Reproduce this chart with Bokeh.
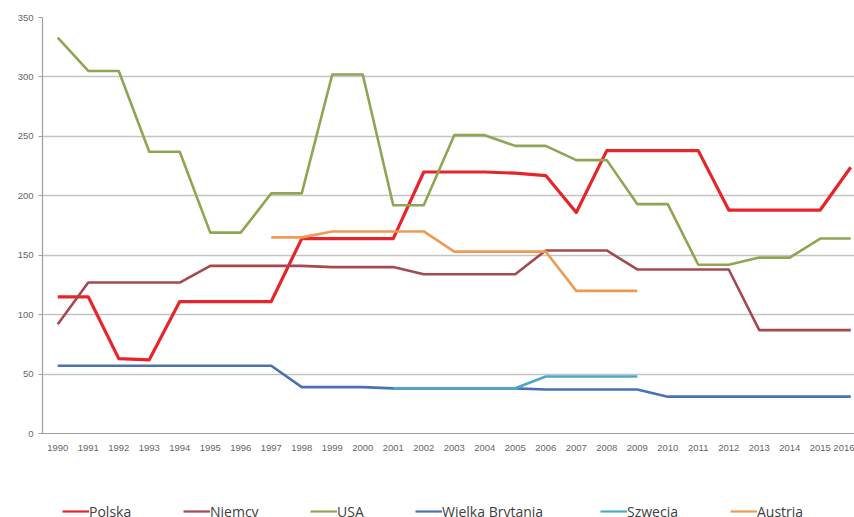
from bokeh.plotting import figure
from bokeh.layouts import column
from bokeh.models import Legend, LegendItem, FixedTicker, Range1d
from bokeh.embed import file_html
from bokeh.resources import INLINE

years = list(range(1990, 2017))
polska = [115, 115, 63, 62, 111, 111, 111, 111, 164, 164, 164, 164, 220, 220,
          220, 219, 217, 186, 238, 238, 238, 238, 188, 188, 188, 188, 224]
niemcy = [92, 127, 127, 127, 127, 141, 141, 141, 141, 140, 140, 140, 134, 134,
          134, 134, 154, 154, 154, 138, 138, 138, 138, 87, 87, 87, 87]
usa = [333, 305, 305, 237, 237, 169, 169, 202, 202, 302, 302, 192, 192, 251,
       251, 242, 242, 230, 230, 193, 193, 142, 142, 148, 148, 164, 164]
wielka_brytania = [57, 57, 57, 57, 57, 57, 57, 57, 39, 39, 39, 38, 38, 38,
                   38, 38, 37, 37, 37, 37, 31, 31, 31, 31, 31, 31, 31]
szwecja_years = list(range(2001, 2010))
szwecja = [38, 38, 38, 38, 38, 48, 48, 48, 48]
austria_years = list(range(1997, 2010))
austria = [165, 165, 170, 170, 170, 170, 153, 153, 153, 153, 120, 120, 120]

names = ["Polska", "Niemcy", "USA", "Wielka Brytania", "Szwecja", "Austria"]
xs_list = [years, years, years, years, szwecja_years, austria_years]
ys_list = [polska, niemcy, usa, wielka_brytania, szwecja, austria]
colors = ["#E8242B", "#A4494F", "#8EA553", "#4A72B0", "#4BAAC2", "#EE9A52"]
widths = [3.2, 2.6, 2.6, 2.6, 2.6, 2.6]
legend_x = [62, 183, 310, 415, 600, 730]  # screen px where each key starts

W = 854
H_MAIN = 490
H_LEG = 27
LEFT = 42

p = figure(width=W, height=H_MAIN, output_backend="svg", toolbar_location=None,
           x_range=Range1d(1989.5, 1989.5 + 812 / 30.5), y_range=Range1d(0, 350),
           min_border_left=LEFT, min_border_right=0, min_border_top=17,
           min_border_bottom=H_MAIN - 433)
p.outline_line_color = None

for xs, ys, col, lw in zip(xs_list, ys_list, colors, widths):
    p.line(xs, ys, line_color=col, line_width=lw, line_join="round")

p.xgrid.grid_line_color = None
p.ygrid.grid_line_color = "#C4C4C4"
p.ygrid.grid_line_width = 1.5

p.yaxis.ticker = FixedTicker(ticks=[0, 50, 100, 150, 200, 250, 300, 350])
p.xaxis.ticker = FixedTicker(ticks=years)
p.xaxis.major_label_overrides = {y: str(y) for y in years}

for ax in (p.xaxis[0], p.yaxis[0]):
    ax.axis_line_color = "#A0A0A0"
    ax.axis_line_width = 1.2
    ax.major_label_text_font = "Liberation Sans"
    ax.major_label_text_font_size = "9.5px"
    ax.major_label_text_color = "#666666"
    ax.minor_tick_line_color = None
    ax.major_tick_line_color = "#A0A0A0"
    ax.major_tick_in = 0

p.xaxis.major_tick_out = 0
p.xaxis.major_label_standoff = 11
p.yaxis.major_tick_out = 4
p.yaxis.major_label_standoff = 5

# legend strip below the chart (series drawn outside its tiny visible range,
# only so that the legend keys have real renderers)
q = figure(width=W, height=H_LEG, output_backend="svg", toolbar_location=None,
           x_axis_type=None, y_axis_type=None,
           x_range=Range1d(0, 1), y_range=Range1d(0, 1),
           min_border_left=0, min_border_right=0, min_border_top=0,
           min_border_bottom=0)
q.grid.grid_line_color = None
q.outline_line_color = None

for name, xs, ys, col, lx in zip(names, xs_list, ys_list, colors, legend_x):
    r = q.line(xs, ys, line_color=col, line_width=2.2)
    lg = Legend(items=[LegendItem(label=name, renderers=[r])],
                location=(lx - LEFT, -4), glyph_width=27, glyph_height=20,
                label_standoff=0, padding=0, margin=0, border_line_color=None,
                background_fill_alpha=0, label_text_font="Open Sans",
                label_text_font_size="14px", label_text_color="#404040")
    q.add_layout(lg)

layout = column(p, q, spacing=0)
open("out.html", "w").write(file_html(layout, INLINE))
